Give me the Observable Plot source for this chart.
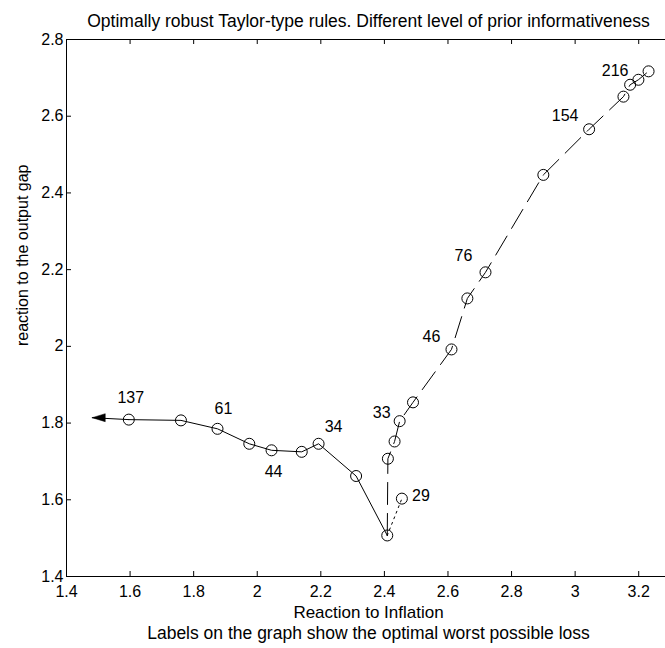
<!DOCTYPE html>
<html><head><meta charset="utf-8">
<script src="https://cdn.jsdelivr.net/npm/d3@7"></script>
<script src="https://cdn.jsdelivr.net/npm/@observablehq/plot@0.6"></script>
<style>body{margin:0;background:#fff;}</style>
</head><body><div id="chart"></div>
<script>
// Solid branch (low informativeness side), from left to the minimum
const solidX = [1.596, 1.760, 1.875, 1.975, 2.045, 2.140, 2.193, 2.311, 2.409];
const solidY = [1.809, 1.807, 1.785, 1.746, 1.729, 1.725, 1.746, 1.662, 1.507];
// Dashed branch, from the minimum upward
const dashX = [2.409, 2.411, 2.432, 2.448, 2.490, 2.611, 2.661, 2.718, 2.900, 3.044, 3.152, 3.173, 3.199, 3.231];
const dashY = [1.507, 1.707, 1.752, 1.805, 1.854, 1.992, 2.125, 2.193, 2.447, 2.566, 2.651, 2.682, 2.695, 2.717];
// Isolated point with smallest loss, joined to the minimum by a dotted line
const dotX = [2.409, 2.455];
const dotY = [1.507, 1.603];
// Arrow at the left end
const arrowX = [1.596, 1.481];
const arrowY = [1.809, 1.814];
// Loss labels, attached to points
const labelText = ["137", "61", "44", "34", "33", "29", "46", "76", "154", "216"];
const labelX = [1.596, 1.875, 2.045, 2.193, 2.448, 2.455, 2.611, 2.718, 3.044, 3.173];
const labelY = [1.809, 1.785, 1.729, 1.746, 1.805, 1.603, 1.992, 2.193, 2.566, 2.682];
// Axis ticks
const xTicks = [1.4, 1.6, 1.8, 2, 2.2, 2.4, 2.6, 2.8, 3, 3.2];
const yTicks = [1.4, 1.6, 1.8, 2, 2.2, 2.4, 2.6, 2.8];

const titleText = "Optimally robust Taylor-type rules. Different level of prior informativeness";
const xLabel = "Reaction to Inflation";
const captionText = "Labels on the graph show the optimal worst possible loss";
const yLabel = "reaction to the output gap";

const toPts = (xs, ys) => xs.map((x, i) => ({x, y: ys[i]}));
const solid = toPts(solidX, solidY);
const dashed = toPts(dashX, dashY);
const dotted = toPts(dotX, dotY);
const arrow = toPts(arrowX, arrowY);
const circles = [...solid, ...dashed.slice(1), dotted[1]];
const labels = labelText.map((t, i) => ({text: t, x: labelX[i], y: labelY[i]}));
const offsets = {"137": [2, -22], "61": [6, -20], "44": [2, 22], "34": [15, -17], "33": [-18, -8],
  "29": [19, -3], "46": [-20, -13], "76": [-22, -16], "154": [-24, -13], "216": [-15, -14]};

const W = 665, H = 648, mL = 66, mT = 39, mB = 72, mR = -5;
const fw = W - mR - mL, fh = H - mB - mT;
const font = "Liberation Sans, Arial, sans-serif";

// left-pointing filled arrowhead with its tip at the origin
const arrowHead = {draw(ctx) { ctx.moveTo(0, 0); ctx.lineTo(13, -4); ctx.lineTo(13, 4); ctx.closePath(); }};

const chart = Plot.plot({
  width: W, height: H,
  marginLeft: mL, marginTop: mT, marginBottom: mB, marginRight: mR,
  style: {fontFamily: font, fontSize: "16px", background: "#fff", overflow: "visible"},
  x: {domain: [1.4, 3.3], axis: null},
  y: {domain: [1.4, 2.8], axis: null},
  marks: [
    Plot.frame({stroke: "#000"}),
    // inward ticks on all sides
    Plot.ruleX(xTicks, {x: d => d, insetTop: fh - 5, stroke: "#000"}),
    Plot.ruleX(xTicks, {x: d => d, insetBottom: fh - 5, stroke: "#000"}),
    Plot.ruleY(yTicks, {y: d => d, insetRight: fw - 5, stroke: "#000"}),
    Plot.ruleY(yTicks, {y: d => d, insetLeft: fw - 5, stroke: "#000"}),
    Plot.axisX({ticks: xTicks, tickSize: 0, tickPadding: 9, label: null, fontSize: 16, tickFormat: d => String(d)}),
    Plot.axisY({ticks: yTicks, tickSize: 0, tickPadding: 3, label: null, fontSize: 16, tickFormat: d => String(d)}),
    // curves
    Plot.line(arrow, {x: "x", y: "y", stroke: "#000", strokeWidth: 1}),
    Plot.dot([arrow[1]], {x: "x", y: "y", symbol: arrowHead, fill: "#000", stroke: "#000", strokeWidth: 0.5}),
    Plot.line(solid, {x: "x", y: "y", stroke: "#000", strokeWidth: 1}),
    Plot.line(dashed, {x: "x", y: "y", stroke: "#000", strokeWidth: 1, strokeDasharray: "22,9"}),
    Plot.line(dotted, {x: "x", y: "y", stroke: "#000", strokeWidth: 1, strokeDasharray: "2,4"}),
    Plot.dot(circles, {x: "x", y: "y", r: 5.5, stroke: "#000", strokeWidth: 1, fill: "none"}),
    ...labels.map(l => Plot.text([l], {x: "x", y: "y", text: "text", dx: offsets[l.text][0], dy: offsets[l.text][1], fontSize: 16, fill: "#000"})),
    // title, axis labels, caption
    Plot.text([titleText], {frameAnchor: "top", dy: -25, fontSize: 17.5, fill: "#000"}),
    Plot.text([xLabel], {frameAnchor: "bottom", dy: 41.5, fontSize: 17, fill: "#000"}),
    Plot.text([captionText], {frameAnchor: "bottom", dy: 62, fontSize: 17.5, fill: "#000"}),
    Plot.text([yLabel], {frameAnchor: "left", dx: -44, dy: 38, rotate: -90, fontSize: 16, fill: "#000"})
  ]
});
document.getElementById("chart").appendChild(chart);
</script>
</body></html>
